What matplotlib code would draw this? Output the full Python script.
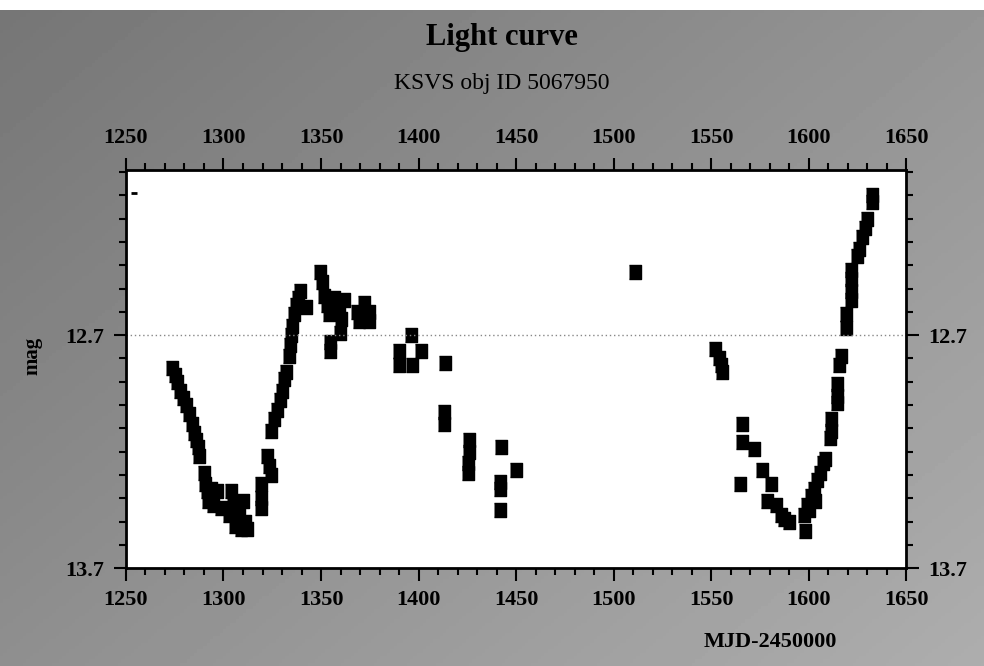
import numpy as np
import matplotlib
matplotlib.use('Agg')
import matplotlib.pyplot as plt
from matplotlib.ticker import MultipleLocator, FixedLocator

# Osservazioni (MJD-2450000, magnitudine)
mjd = [
    # primo minimo
    1273.6, 1275.1, 1276.2, 1277.7, 1279.2, 1280.8, 1282.3, 1283.8, 1284.9, 1285.9,
    1286.9, 1287.4, 1290.0, 1290.5, 1291.5, 1292.1, 1293.6, 1296.7, 1294.6, 1298.7,
    1303.8, 1304.9, 1307.9, 1311.0, 1305.9, 1312.1, 1309.0, 1302.8, 1310.0,
    # risalita
    1319.2, 1319.2, 1319.2, 1322.3, 1323.3, 1324.4, 1324.4, 1325.9, 1327.4, 1329.0,
    1330.0, 1331.0, 1332.1, 1333.6, 1334.1, 1334.6, 1335.1, 1336.2, 1337.2, 1338.2,
    1339.2, 1342.3,
    # massimo
    1349.5, 1350.5, 1351.5, 1356.7, 1361.8, 1353.1, 1359.2, 1354.1, 1360.3, 1359.7,
    1354.6, 1354.6, 1372.1, 1368.5, 1374.6, 1369.5, 1374.6,
    # discesa sparsa
    1396.2, 1390.0, 1390.0, 1401.3, 1396.7, 1413.6, 1413.1, 1413.1, 1425.9, 1425.9,
    1425.4, 1425.4, 1442.3, 1450.0, 1441.8, 1441.8, 1441.8,
    1511.0,
    # secondo minimo
    1552.1, 1554.1, 1555.1, 1555.6, 1565.9, 1565.9, 1572.1, 1576.2, 1580.8, 1564.9,
    1578.7, 1583.3, 1585.9, 1590.0, 1587.4, 1598.2, 1597.7, 1599.2, 1601.3, 1602.8,
    1604.4, 1605.9, 1607.4, 1608.5, 1600.3, 1603.3,
    # seconda risalita
    1611.5, 1611.5, 1611.0, 1614.6, 1614.6, 1614.6, 1616.7, 1615.6, 1619.2, 1619.2,
    1621.8, 1621.8, 1621.8, 1621.8, 1630.0, 1629.0, 1627.4, 1625.9, 1624.9, 1632.6,
    1632.6,
]
mag = [
    12.84, 12.87, 12.90, 12.94, 12.97, 13.00, 13.04, 13.08, 13.12, 13.15,
    13.18, 13.22, 13.29, 13.34, 13.37, 13.41, 13.36, 13.37, 13.43, 13.44,
    13.37, 13.43, 13.47, 13.50, 13.52, 13.53, 13.53, 13.47, 13.41,
    13.44, 13.40, 13.34, 13.22, 13.26, 13.30, 13.11, 13.06, 13.02, 12.98,
    12.94, 12.89, 12.86, 12.79, 12.74, 12.70, 12.66, 12.61, 12.57, 12.54,
    12.51, 12.58,
    12.43, 12.47, 12.53, 12.54, 12.55, 12.57, 12.58, 12.61, 12.63, 12.69,
    12.73, 12.77, 12.56, 12.60, 12.60, 12.64, 12.64,
    12.70, 12.77, 12.83, 12.77, 12.83, 12.82, 13.03, 13.08, 13.15, 13.20,
    13.25, 13.29, 13.18, 13.28, 13.33, 13.36, 13.45,
    12.43,
    12.76, 12.80, 12.83, 12.86, 13.08, 13.16, 13.19, 13.28, 13.34, 13.34,
    13.41, 13.43, 13.47, 13.50, 13.49, 13.54, 13.47, 13.43, 13.39, 13.36,
    13.32, 13.29, 13.25, 13.23, 13.45, 13.41,
    13.06, 13.11, 13.14, 12.91, 12.96, 12.99, 12.79, 12.83, 12.61, 12.67,
    12.42, 12.46, 12.51, 12.55, 12.20, 12.24, 12.28, 12.33, 12.36, 12.10,
    12.13,
]
# trattino isolato in alto a sinistra
mjd_dash = [1254.1]
mag_dash = [12.09]

x_ticks = [1250, 1300, 1350, 1400, 1450, 1500, 1550, 1600, 1650]
y_ticks = [12.7, 13.7]

serif = 'Liberation Serif'

fig = plt.figure(figsize=(9.84, 6.66), dpi=100)

# sfondo grigio sfumato (scansione)
bg = fig.add_axes([0, 0, 1, 1], zorder=-10)
yy, xx = np.mgrid[0:1:200j, 0:1:300j]
shade = 0.46 + 0.12 * xx + 0.10 * yy
shade[:3, :] = 1.0
bg.imshow(shade, cmap='gray', vmin=0, vmax=1, aspect='auto', extent=(0, 1, 0, 1), origin='upper')
bg.axis('off')

ax = fig.add_axes([0.128, 0.147, 0.793, 0.598])
ax.set_facecolor('white')

rect = [(-0.42, -0.5), (0.42, -0.5), (0.42, 0.5), (-0.42, 0.5)]
ax.plot(mjd, mag, linestyle='none', marker=rect, markersize=10.5, color='black')
ax.plot(mjd_dash, mag_dash, linestyle='none', marker='_', markersize=5, markeredgewidth=2, color='black')

ax.axhline(12.7, color='#888888', linestyle=(0, (1, 2)), linewidth=1)

ax.set_xlim(1250, 1650)
ax.set_ylim(13.7, 11.99)

ax.xaxis.set_major_locator(FixedLocator(x_ticks))
ax.xaxis.set_minor_locator(MultipleLocator(10))
ax.yaxis.set_major_locator(FixedLocator(y_ticks))
ax.yaxis.set_minor_locator(MultipleLocator(0.1))
ax.set_xticklabels([str(t) for t in x_ticks])
ax.set_yticklabels([str(t) for t in y_ticks])

ax.tick_params(which='both', direction='out', top=True, right=True,
               labeltop=True, labelright=True, width=1.5, color='black')
ax.tick_params(which='major', length=9, pad=7)
ax.tick_params(which='minor', length=5)
for t in ax.xaxis.get_major_ticks() + ax.yaxis.get_major_ticks():
    for lab in (t.label1, t.label2):
        lab.set_fontfamily(serif)
        lab.set_fontweight('bold')
        lab.set_fontsize(16)

for s in ax.spines.values():
    s.set_linewidth(2)
    s.set_color('black')

fig.text(0.51, 0.943, 'Light curve', ha='center', va='center', fontsize=22,
         fontweight='bold', family=serif)
fig.text(0.51, 0.875, 'KSVS obj ID 5067950', ha='center', va='center', fontsize=17,
         family=serif)
fig.text(0.033, 0.465, 'mag', ha='center', va='center', rotation=90, fontsize=15,
         fontweight='bold', family=serif)
fig.text(0.783, 0.036, 'MJD-2450000', ha='center', va='center', fontsize=16,
         fontweight='bold', family=serif)

fig.savefig('out.png', dpi=100)
